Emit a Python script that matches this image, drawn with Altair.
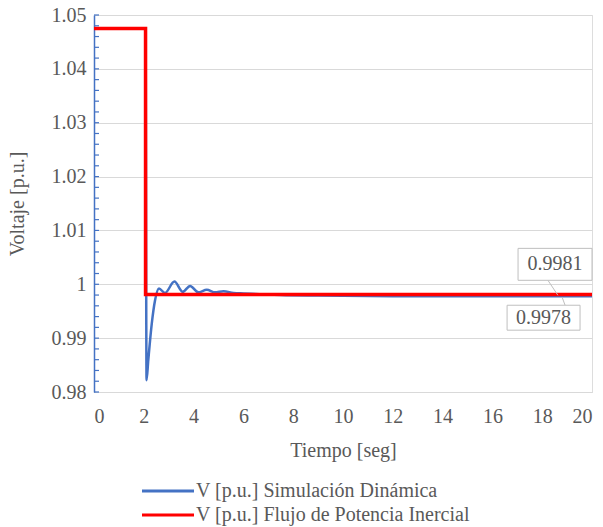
import altair as alt
import pandas as pd

# ---- data ----
series_names = ["V [p.u.] Simulación Dinámica", "V [p.u.] Flujo de Potencia Inercial"]
series_colors = ["#4472C4", "#FF0000"]

t_dyn = [0, 2.07, 2.11, 2.18, 2.32, 2.45, 2.61, 2.85, 3.23, 3.56, 3.86, 4.19, 4.53,
         4.86, 5.2, 5.6, 6.0, 6.5, 7.5, 9.0, 12.0, 20.0]
v_dyn = [1.0475, 1.0475, 0.9822, 0.9859, 0.9927, 0.9970, 0.9992, 0.9984, 1.0005,
         0.9986, 0.9997, 0.9985, 0.9990, 0.9985, 0.9987, 0.9984, 0.9983, 0.9982,
         0.9980, 0.9979, 0.9978, 0.9978]

t_fpi = [0, 2.07, 2.07, 20.0]
v_fpi = [1.0475, 1.0475, 0.9981, 0.9981]

y_grid = [0.98, 0.99, 1.00, 1.01, 1.02, 1.03, 1.04, 1.05]
y_minor = [0.98 + 0.002 * i for i in range(36)]
x_ticks = [0, 2, 4, 6, 8, 10, 12, 14, 16, 18, 20]

# callouts (data-label boxes)
lab_text = ["0.9981", "0.9978"]
lab_x1 = [17.03, 16.59]
lab_x2 = [20.0, 19.52]
lab_y1 = [1.00074, 0.99148]
lab_y2 = [1.00667, 0.99611]
ptr_x1 = [18.23, 18.92]
ptr_y1 = [1.00074, 0.99611]
ptr_x2 = [18.63, 18.80]
ptr_y2 = [0.99796, 0.99759]

FONT = "Liberation Serif"
GRAY = "#595959"

dyn = pd.DataFrame({"t": t_dyn, "v": v_dyn, "serie": series_names[0], "o": range(len(t_dyn))})
fpi = pd.DataFrame({"t": t_fpi, "v": v_fpi, "serie": series_names[1], "o": range(len(t_fpi))})
minor = pd.DataFrame({"v": y_minor})
labels = pd.DataFrame({"txt": lab_text, "x1": lab_x1, "x2": lab_x2, "y1": lab_y1, "y2": lab_y2,
                       "xm": [(a + b) / 2 for a, b in zip(lab_x1, lab_x2)],
                       "ym": [(a + b) / 2 for a, b in zip(lab_y1, lab_y2)],
                       "px1": ptr_x1, "py1": ptr_y1, "px2": ptr_x2, "py2": ptr_y2})

xscale = alt.Scale(domain=[0, 20], nice=False)
yscale = alt.Scale(domain=[0.98, 1.05], nice=False, zero=False)
color = alt.Color("serie:N",
                  scale=alt.Scale(domain=series_names, range=series_colors),
                  sort=series_names,
                  legend=alt.Legend(title=None, orient="none", legendX=64, legendY=466,
                                    symbolType="M-4,0H4", symbolSize=169, symbolStrokeWidth=3,
                                    labelFont=FONT, labelFontSize=20, labelColor=GRAY,
                                    labelLimit=0, labelOffset=18, rowPadding=4, padding=0))

xax = alt.X("t:Q", scale=xscale,
            axis=alt.Axis(title="Tiempo [seg]", values=x_ticks, grid=False, ticks=False,
                          domainColor="#d9d9d9", labelPadding=14, titlePadding=14,
                          labelFont=FONT, labelFontSize=20, labelColor=GRAY,
                          titleFont=FONT, titleFontSize=20, titleColor=GRAY,
                          titleFontWeight="normal"))
yax = alt.Y("v:Q", scale=yscale,
            axis=alt.Axis(title="Voltaje [p.u.]", values=y_grid, grid=True, gridColor="#d9d9d9",
                          ticks=False, domainColor="#4472C4", domainWidth=1.5,
                          labelExpr="format(datum.value, '.2~f')", labelPadding=8,
                          titlePadding=24,
                          labelFont=FONT, labelFontSize=20, labelColor=GRAY,
                          titleFont=FONT, titleFontSize=20, titleColor=GRAY,
                          titleFontWeight="normal"))

blue = alt.Chart(dyn).mark_line(strokeWidth=2.5, interpolate="monotone").encode(
    x=xax, y=yax, color=color, order="o:Q")
red = alt.Chart(fpi).mark_line(strokeWidth=3.5).encode(
    x=alt.X("t:Q", scale=xscale), y=alt.Y("v:Q", scale=yscale), color=color, order="o:Q")

ticks = alt.Chart(minor).mark_rule(color="#4472C4", strokeWidth=1.2).encode(
    y=alt.Y("v:Q", scale=yscale), x=alt.value(0), x2=alt.value(5))

ptr = alt.Chart(labels).mark_rule(color="#bfbfbf", strokeWidth=1).encode(
    x=alt.X("px1:Q", scale=xscale), y=alt.Y("py1:Q", scale=yscale),
    x2="px2:Q", y2="py2:Q")
box = alt.Chart(labels).mark_rect(fill="white", stroke="#bfbfbf", strokeWidth=1).encode(
    x=alt.X("x1:Q", scale=xscale), x2="x2:Q",
    y=alt.Y("y1:Q", scale=yscale), y2="y2:Q")
txt = alt.Chart(labels).mark_text(font=FONT, fontSize=20, color=GRAY, baseline="middle").encode(
    x=alt.X("xm:Q", scale=xscale), y=alt.Y("ym:Q", scale=yscale), text="txt:N")

chart = alt.layer(blue, red, ticks, ptr, box, txt).properties(
    width=498, height=377,
    autosize=alt.AutoSizeParams(type="none"),
    padding={"left": 86, "top": 7, "right": 3, "bottom": 134},
).configure_view(stroke=None).configure(background="white")

chart.save("out.html", embed_options={"renderer": "svg", "actions": False})
